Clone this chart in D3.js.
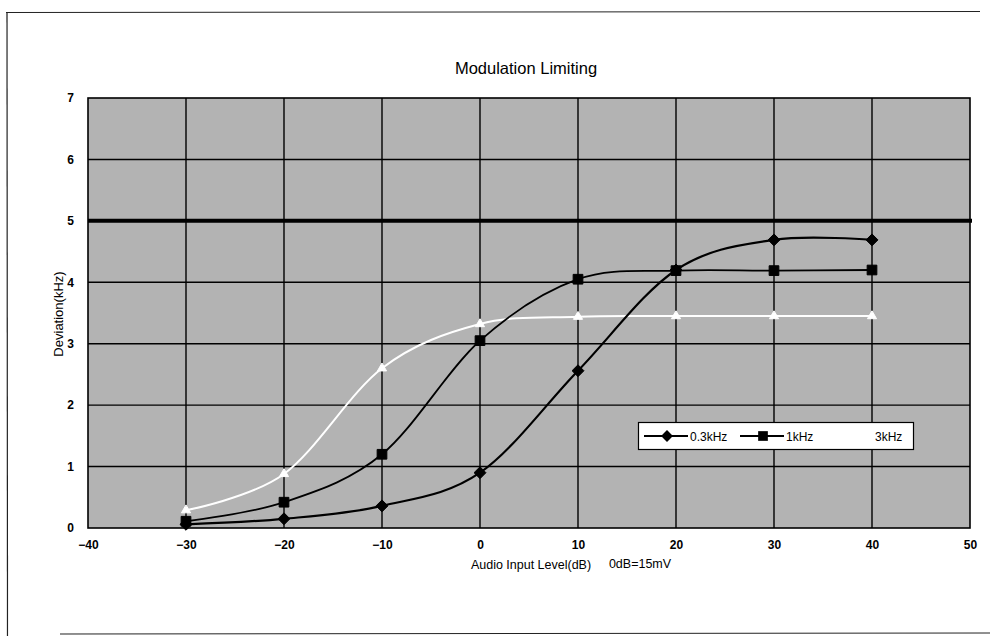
<!DOCTYPE html>
<html>
<head>
<meta charset="utf-8">
<script src="https://cdn.jsdelivr.net/npm/d3@7"></script>
<style>
  html, body { margin: 0; padding: 0; background: #fff; }
  svg { display: block; }
  text { font-family: "Liberation Sans", Arial, sans-serif; fill: #000; }
</style>
</head>
<body>
<svg id="chart" width="990" height="636"></svg>
<script>
// Input level (dB) at which deviation was measured
const levels = [-30, -20, -10, 0, 10, 20, 30, 40];
// Deviation (kHz) for each test tone
const dev03k = [0.06, 0.15, 0.36, 0.90, 2.56, 4.20, 4.69, 4.69];
const dev1k  = [0.11, 0.42, 1.20, 3.05, 4.05, 4.19, 4.19, 4.20];
const dev3k  = [0.29, 0.88, 2.60, 3.32, 3.44, 3.45, 3.45, 3.45];
const seriesNames = ["0.3kHz", "1kHz", "3kHz"];
// Maximum deviation limit
const limitValue = 5;
const xTicks = [-40, -30, -20, -10, 0, 10, 20, 30, 40, 50];
const yTicks = [0, 1, 2, 3, 4, 5, 6, 7];

const svg = d3.select("#chart");
const pL = 88, pR = 970, pT = 98, pB = 528;
const x = d3.scaleLinear().domain([-40, 50]).range([pL, pR]);
const y = d3.scaleLinear().domain([0, 7]).range([pB, pT]);

// page frame
const frame = svg.append("g").attr("stroke", "#222").attr("fill", "none");
frame.append("line").attr("x1", 6).attr("x2", 980).attr("y1", 12.5).attr("y2", 11.5).attr("stroke-width", 1);
frame.append("line").attr("x1", 7).attr("x2", 7.5).attr("y1", 12).attr("y2", 636).attr("stroke-width", 1.2);
frame.append("line").attr("x1", 60).attr("x2", 990).attr("y1", 634).attr("y2", 633).attr("stroke-width", 1);

// title
svg.append("text").attr("x", 526).attr("y", 74).attr("text-anchor", "middle")
  .attr("font-size", 16.5).text("Modulation Limiting");

// plot area
svg.append("rect").attr("x", pL).attr("y", pT)
  .attr("width", pR - pL).attr("height", pB - pT)
  .attr("fill", "#b3b3b3");

// grid
const grid = svg.append("g").attr("stroke", "#000").attr("stroke-width", 1.4);
grid.selectAll(".gx").data(xTicks.filter(v => v > -40 && v < 50)).join("line")
  .attr("x1", d => x(d)).attr("x2", d => x(d)).attr("y1", pT).attr("y2", pB);
grid.selectAll(".gy").data(yTicks.filter(v => v > 0 && v < 7)).join("line")
  .attr("x1", pL).attr("x2", pR).attr("y1", d => y(d)).attr("y2", d => y(d));
svg.append("rect").attr("x", pL).attr("y", pT)
  .attr("width", pR - pL).attr("height", pB - pT)
  .attr("fill", "none").attr("stroke", "#000").attr("stroke-width", 1.6);

// limit line
svg.append("line").attr("x1", pL).attr("x2", pR + 2)
  .attr("y1", y(limitValue)).attr("y2", y(limitValue))
  .attr("stroke", "#000").attr("stroke-width", 4);

// axes labels
const xAxis = d3.axisBottom(x).tickValues(xTicks).tickSize(0).tickPadding(12).tickFormat(d3.format("d"));
svg.append("g").attr("transform", `translate(0,${pB})`).call(xAxis)
  .call(g => g.select(".domain").remove())
  .selectAll("text").attr("font-size", 12).attr("font-weight", "bold")
  .attr("font-family", "'Liberation Sans', Arial, sans-serif");
const yAxis = d3.axisLeft(y).tickValues(yTicks).tickSize(0).tickPadding(14).tickFormat(d3.format("d"));
svg.append("g").attr("transform", `translate(${pL},0)`).call(yAxis)
  .call(g => g.select(".domain").remove())
  .selectAll("text").attr("font-size", 12).attr("font-weight", "bold")
  .attr("font-family", "'Liberation Sans', Arial, sans-serif");

svg.append("text").attr("x", 531).attr("y", 569).attr("text-anchor", "middle")
  .attr("font-size", 12.5).text("Audio Input Level(dB)");
svg.append("text").attr("x", 640).attr("y", 568).attr("text-anchor", "middle")
  .attr("font-size", 12.5).text("0dB=15mV");
svg.append("text").attr("transform", "translate(63,314) rotate(-90)")
  .attr("text-anchor", "middle").attr("font-size", 13).text("Deviation(kHz)");

// series
const series = [
  { name: seriesNames[0], values: dev03k, color: "#000", width: 2.2, marker: "diamond" },
  { name: seriesNames[1], values: dev1k, color: "#000", width: 1.8, marker: "square" },
  { name: seriesNames[2], values: dev3k, color: "#fff", width: 2, marker: "triangle" }
];
const symbolType = { diamond: d3.symbolDiamond2, square: d3.symbolSquare2, triangle: d3.symbolTriangle2 };
const symbolSize = { diamond: 90, square: 120, triangle: 60 };
const line = d3.line().x(d => x(d[0])).y(d => y(d[1])).curve(d3.curveCatmullRom.alpha(0));

const plot = svg.append("g");
series.slice().reverse().forEach(s => {
  const pts = levels.map((l, i) => [l, s.values[i]]);
  plot.append("path").attr("d", line(pts)).attr("fill", "none")
    .attr("stroke", s.color).attr("stroke-width", s.width);
  plot.selectAll(null).data(pts).join("path")
    .attr("transform", d => `translate(${x(d[0])},${y(d[1])})`)
    .attr("d", d3.symbol(symbolType[s.marker], symbolSize[s.marker])())
    .attr("fill", s.color).attr("stroke", s.color).attr("stroke-width", 1);
});

// legend
const lg = svg.append("g");
lg.append("rect").attr("x", 638.5).attr("y", 422.5).attr("width", 275).attr("height", 27)
  .attr("fill", "#fff").attr("stroke", "#000").attr("stroke-width", 1.2);
const lgX = [644, 740, 836];
series.forEach((s, i) => {
  const g = lg.append("g").attr("transform", `translate(${lgX[i]},436)`);
  g.append("line").attr("x1", 0).attr("x2", 44).attr("stroke", s.color).attr("stroke-width", s.width);
  g.append("path").attr("transform", "translate(23,0)")
    .attr("d", d3.symbol(symbolType[s.marker], symbolSize[s.marker])())
    .attr("fill", s.color);
  g.append("text").attr("x", i === 2 ? 39 : 46).attr("y", 4.5).attr("font-size", 12).text(s.name);
});
</script>
</body>
</html>
